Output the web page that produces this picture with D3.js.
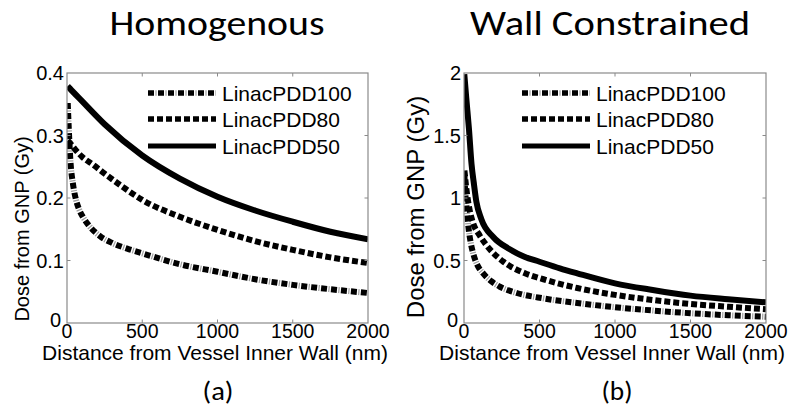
<!DOCTYPE html>
<html>
<head>
<meta charset="utf-8">
<script src="https://cdn.jsdelivr.net/npm/d3@7"></script>
<style>
  html, body { margin: 0; padding: 0; background: #fff; }
  svg { display: block; }
</style>
</head>
<body>
<svg id="fig" width="790" height="413"></svg>
<script>
// Distance from vessel inner wall (nm) and dose from GNP (Gy)
const seriesNames = ["LinacPDD100", "LinacPDD80", "LinacPDD50"];
const xTicks = [0, 500, 1000, 1500, 2000];

// Panel (a): homogenous distribution
const homPDD100 = [[5,0.352],[12,0.31],[22,0.262],[40,0.222],[60,0.197],[80,0.182],[110,0.168],[142,0.157],[219,0.139],[300,0.128],[400,0.119],[500,0.1115],[750,0.094],[1000,0.082],[1250,0.07],[1500,0.061],[1750,0.054],[2000,0.048]];
const homPDD80 = [[5,0.292],[20,0.288],[60,0.276],[100,0.266],[175,0.253],[250,0.239],[375,0.217],[500,0.197],[750,0.17],[1000,0.149],[1250,0.131],[1500,0.117],[1750,0.105],[2000,0.096]];
const homPDD50 = [[5,0.379],[20,0.375],[100,0.355],[250,0.318],[500,0.268],[750,0.231],[1000,0.202],[1250,0.18],[1500,0.162],[1750,0.146],[2000,0.134]];
const homYTicks = [0, 0.1, 0.2, 0.3, 0.4];

// Panel (b): wall constrained distribution
const wallPDD100 = [[3,1.18],[8,1.05],[16,0.94],[30,0.76],[45,0.64],[60,0.56],[90,0.46],[127,0.397],[180,0.335],[238,0.29],[350,0.24],[526,0.197],[750,0.16],[1000,0.126],[1250,0.1],[1500,0.078],[1750,0.062],[2000,0.05]];
const wallPDD80 = [[3,1.22],[15,1.08],[38,0.9],[60,0.8],[104,0.7],[171,0.59],[261,0.49],[400,0.4],[526,0.35],[750,0.28],[1000,0.225],[1250,0.184],[1500,0.152],[1750,0.13],[2000,0.11]];
const wallPDD50 = [[2,1.99],[15,1.8],[33,1.55],[50,1.27],[65,1.12],[82,0.97],[115,0.83],[192,0.69],[303,0.59],[400,0.53],[500,0.49],[635,0.437],[750,0.397],[1000,0.317],[1250,0.264],[1500,0.219],[1750,0.19],[2000,0.165]];
const wallYTicks = [0, 0.5, 1, 1.5, 2];

const panels = [
  { title: "Homogenous", tag: "(a)", left: 67, right: 368, yMax: 0.4, yTicks: homYTicks,
    yFmt: d => d === 0 ? "0" : d3.format(".1f")(d),
    data: [homPDD100, homPDD80, homPDD50],
    titleX: 217, titleW: 215, tagX: 218, xLabelX: 215, yLabelX: 22, yLabelY: 229, yLabelSize: 20,
    legX: 148 },
  { title: "Wall Constrained", tag: "(b)", left: 464, right: 766, yMax: 2, yTicks: wallYTicks,
    yFmt: d => d3.format("~g")(d),
    data: [wallPDD100, wallPDD80, wallPDD50],
    titleX: 610, titleW: 280, tagX: 617, xLabelX: 612, yLabelX: 415, yLabelY: 207, yLabelSize: 24,
    legX: 522 }
];

const plotTop = 73, plotBottom = 323;
const axisFont = "'Liberation Sans', Arial, sans-serif";
const titleFont = "Carlito, 'Open Sans', sans-serif";
const svg = d3.select("#fig");
const boxColor = "#8a8a8a";

panels.forEach(p => {
  const x = d3.scaleLinear().domain([0, 2000]).range([p.left, p.right]);
  const y = d3.scaleLinear().domain([0, p.yMax]).range([plotBottom, plotTop]);
  const g = svg.append("g");

  // Curves
  const line = d3.line().x(d => x(d[0])).y(d => y(d[1])).curve(d3.curveMonotoneX);
  const clipId = "clip-" + p.tag.replace(/[()]/g, "");
  svg.append("clipPath").attr("id", clipId).append("rect")
    .attr("x", p.left).attr("y", plotTop - 6).attr("width", p.right - p.left).attr("height", plotBottom - plotTop + 6);
  const curves = g.append("g").attr("clip-path", `url(#${clipId})`);

  function styled(sel, i) {
    sel.attr("fill", "none").attr("stroke-linecap", "butt").attr("stroke-linejoin", "round");
    if (i === 2) sel.attr("stroke", "#000").attr("stroke-width", 6);
    else if (i === 1) sel.attr("stroke", "#000").attr("stroke-width", 6).attr("stroke-dasharray", "6 3");
    else sel.attr("stroke", "#000").attr("stroke-width", 6).attr("stroke-dasharray", "6 4");
    return sel;
  }
  function dashDotOverlay(sel) {
    return sel.attr("fill", "none").attr("stroke", "#a0a0a0").attr("stroke-width", 6)
      .attr("stroke-dasharray", "1.2 8.8").attr("stroke-dashoffset", -7.4);
  }

  p.data.forEach((series, i) => {
    styled(curves.append("path").attr("d", line(series)), i);
    if (i === 0) dashDotOverlay(curves.append("path").attr("d", line(series)));
  });

  // Axis box
  g.append("rect").attr("x", p.left).attr("y", plotTop)
    .attr("width", p.right - p.left).attr("height", plotBottom - plotTop)
    .attr("fill", "none").attr("stroke", boxColor).attr("stroke-width", 1.2);

  // Tick marks on all four sides
  const tl = 3.5;
  xTicks.slice(1, -1).forEach(t => {
    g.append("line").attr("x1", x(t)).attr("x2", x(t)).attr("y1", plotBottom).attr("y2", plotBottom - tl).attr("stroke", boxColor);
    g.append("line").attr("x1", x(t)).attr("x2", x(t)).attr("y1", plotTop).attr("y2", plotTop + tl).attr("stroke", boxColor);
  });
  p.yTicks.slice(1, -1).forEach(t => {
    g.append("line").attr("x1", p.left).attr("x2", p.left + tl).attr("y1", y(t)).attr("y2", y(t)).attr("stroke", boxColor);
    g.append("line").attr("x1", p.right).attr("x2", p.right - tl).attr("y1", y(t)).attr("y2", y(t)).attr("stroke", boxColor);
  });

  // Tick labels (the zero on the y axis sits a little up-left of the x-axis zero)
  g.selectAll(".xt").data(xTicks).join("text")
    .attr("x", d => x(d)).attr("y", 338)
    .attr("text-anchor", "middle").attr("font-family", axisFont).attr("font-size", 19.5)
    .text(d => d);
  g.selectAll(".yt").data(p.yTicks).join("text")
    .attr("x", d => d === 0 ? p.left - 6 : p.left - 3)
    .attr("y", d => d === 0 ? y(d) + 4 : y(d) + 7)
    .attr("text-anchor", "end").attr("font-family", axisFont).attr("font-size", 20)
    .text(p.yFmt);

  // Axis titles
  g.append("text").attr("x", p.xLabelX).attr("y", 360)
    .attr("text-anchor", "middle").attr("font-family", axisFont).attr("font-size", 21)
    .text("Distance from Vessel Inner Wall (nm)");
  g.append("text")
    .attr("transform", `translate(${p.yLabelX + p.yLabelSize * 0.36},${p.yLabelY}) rotate(-90)`)
    .attr("text-anchor", "middle").attr("font-family", axisFont).attr("font-size", p.yLabelSize)
    .text("Dose from GNP (Gy)");

  // Legend
  const rows = [93, 119, 146];
  seriesNames.forEach((name, i) => {
    styled(g.append("line").attr("x1", p.legX).attr("x2", p.legX + 68)
      .attr("y1", rows[i]).attr("y2", rows[i]), i).attr("stroke-width", i === 2 ? 5 : 5.5);
    if (i === 0) dashDotOverlay(g.append("line").attr("x1", p.legX).attr("x2", p.legX + 68)
      .attr("y1", rows[i]).attr("y2", rows[i])).attr("stroke-width", 5.5);
    g.append("text").attr("x", p.legX + 74).attr("y", rows[i] + 7.5)
      .attr("font-family", axisFont).attr("font-size", 21).text(name);
  });

  // Panel title and tag
  g.append("text").attr("x", p.titleX).attr("y", 35)
    .attr("text-anchor", "middle").attr("font-family", titleFont).attr("font-size", 34)
    .attr("textLength", p.titleW).attr("lengthAdjust", "spacingAndGlyphs")
    .text(p.title);
  g.append("text").attr("x", p.tagX).attr("y", 400)
    .attr("text-anchor", "middle").attr("font-family", titleFont).attr("font-size", 26)
    .attr("textLength", 31).attr("lengthAdjust", "spacingAndGlyphs")
    .text(p.tag);
});
</script>
</body>
</html>
